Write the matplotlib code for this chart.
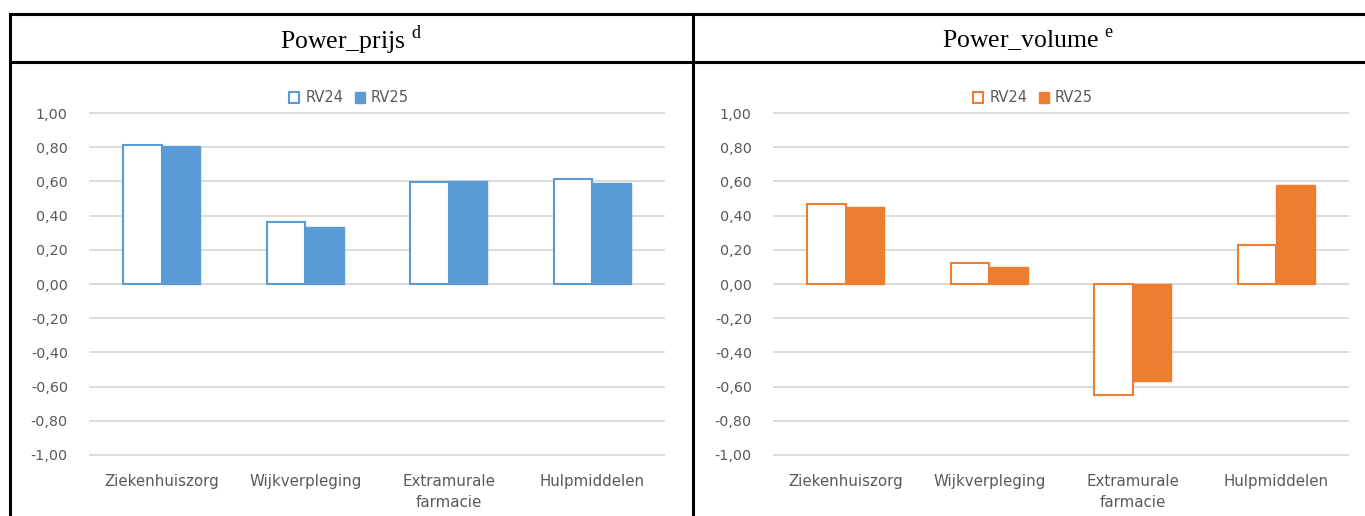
import matplotlib
matplotlib.use('Agg')
import matplotlib.pyplot as plt
from matplotlib.patches import Patch
from matplotlib.lines import Line2D
import numpy as np

## 데이터
categories = ['Ziekenhuiszorg', 'Wijkverpleging', 'Extramurale\nfarmacie', 'Hulpmiddelen']
prijs_rv24 = [0.81, 0.365, 0.595, 0.615]
prijs_rv25 = [0.805, 0.335, 0.605, 0.59]
volume_rv24 = [0.47, 0.12, -0.65, 0.23]
volume_rv25 = [0.45, 0.10, -0.565, 0.58]
yticks = [-1.0, -0.8, -0.6, -0.4, -0.2, 0.0, 0.2, 0.4, 0.6, 0.8, 1.0]

BLUE = '#5B9BD5'
ORANGE = '#ED7D31'
GREY_TXT = '#595959'
GRID = '#D9D9D9'

W, H = 1365, 516
fig = plt.figure(figsize=(W / 100, H / 100), dpi=100)
fig.patch.set_facecolor('white')


def px(x0, y0, x1, y1):
    # 픽셀 좌표(왼쪽 위 기준) -> figure 좌표
    return [x0 / W, 1 - y1 / H, (x1 - x0) / W, (y1 - y0) / H]


def draw_panel(rect, v24, v25, color, legend_x):
    ax = fig.add_axes(rect)
    x = np.arange(len(categories))
    bw = 0.268
    ax.bar(x - bw / 2, v24, bw, facecolor='white', edgecolor=color, linewidth=1.5, zorder=3)
    ax.bar(x + bw / 2, v25, bw, facecolor=color, edgecolor=color, linewidth=1.0, zorder=3)
    ax.set_xlim(-0.5, len(categories) - 0.5)
    ax.set_ylim(-1.0, 1.0)
    ax.set_yticks(yticks)
    ax.set_yticklabels([f'{v:.2f}'.replace('.', ',') for v in yticks])
    ax.set_xticks(x)
    ax.set_xticklabels(categories, linespacing=1.45)
    ax.grid(axis='y', color=GRID, linewidth=1.3, zorder=0)
    for gl in ax.get_ygridlines():
        gl.set_clip_on(False)
    for s in ax.spines.values():
        s.set_visible(False)
    ax.tick_params(axis='both', length=0, colors=GREY_TXT)
    ax.tick_params(axis='y', pad=16, labelsize=10.3)
    ax.tick_params(axis='x', pad=14, labelsize=10.8)
    for t in ax.get_xticklabels() + ax.get_yticklabels():
        t.set_fontfamily('DejaVu Sans')
    handles = [Patch(facecolor='white', edgecolor=color, linewidth=1.5, label='RV24'),
               Patch(facecolor=color, edgecolor=color, label='RV25')]
    fig.legend(handles=handles, loc='center', bbox_to_anchor=(legend_x / W, 1 - 98 / H),
               ncol=2, frameon=False, handlelength=0.7, handleheight=0.7,
               handletextpad=0.4, columnspacing=0.8,
               prop={'family': 'DejaVu Sans', 'size': 10.5}, labelcolor=GREY_TXT)
    return ax


draw_panel(px(90, 113, 664, 455), prijs_rv24, prijs_rv25, BLUE, 349)
draw_panel(px(774, 113, 1348, 455), volume_rv24, volume_rv25, ORANGE, 1033)

## 표 테두리
lw = 2.2
for y in (14, 62):
    fig.add_artist(Line2D([10 / W, 1], [1 - y / H, 1 - y / H], color='black', linewidth=lw))
for xx in (10, 693):
    fig.add_artist(Line2D([xx / W, xx / W], [0, 1 - 14 / H], color='black', linewidth=lw))

## 제목
fig.text(351 / W, 1 - 40 / H, r'Power_prijs $^{\mathregular{d}}$', ha='center', va='center',
         fontsize=18.5, family='Liberation Serif')
fig.text(1028 / W, 1 - 40 / H, r'Power_volume $^{\mathregular{e}}$', ha='center', va='center',
         fontsize=18.5, family='Liberation Serif')

plt.savefig('out.png', dpi=100, facecolor='white')
